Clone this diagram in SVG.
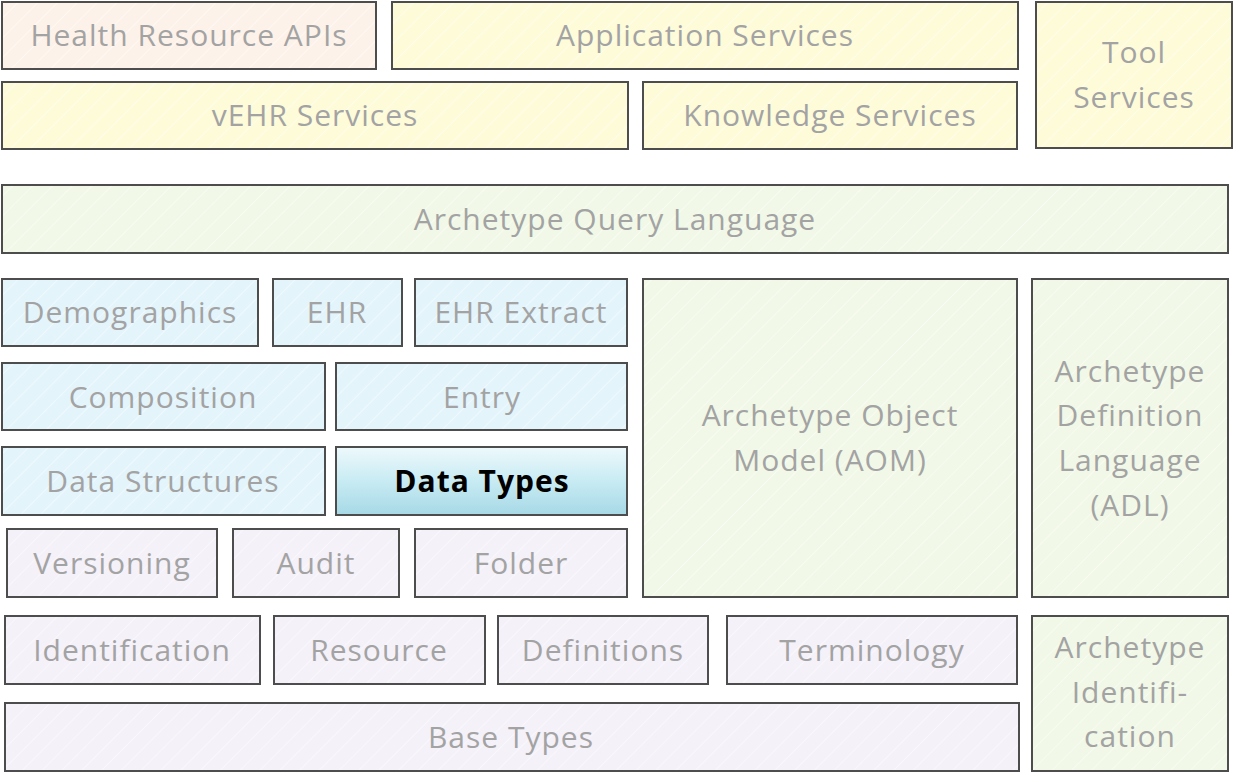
<svg xmlns="http://www.w3.org/2000/svg" width="1236" height="777" viewBox="0 0 1236 777">
<defs>
<pattern id="hatch" width="14" height="14" patternUnits="userSpaceOnUse" patternTransform="rotate(45)">
<line x1="0" y1="0" x2="0" y2="14" stroke="#ffffff" stroke-width="2" stroke-opacity="0.45"/>
</pattern>
<linearGradient id="dt" x1="0" y1="0" x2="0" y2="1">
<stop offset="0" stop-color="#eef9fc"/>
<stop offset="0.5" stop-color="#c8ebf3"/>
<stop offset="1" stop-color="#a6d9e6"/>
</linearGradient>
<style>
rect.b{stroke:#4d4d4d;stroke-width:2}
rect.h{fill:url(#hatch);stroke:none}
.peach{fill:#fdf2e9}
.yel{fill:#fefbd9}
.grn{fill:#f1f8e7}
.blu{fill:#e3f4fb}
.pur{fill:#f4f1f9}
text{font-family:"Open Sans","Noto Sans",sans-serif;font-size:30px;letter-spacing:1px;fill:#a3a3a3;text-anchor:middle}
text.dtt{fill:#000;font-weight:bold}
</style>
</defs>
<rect width="1236" height="777" fill="#ffffff"/>
<g id="health-resource-apis"><rect class="b peach" x="2" y="2" width="374" height="67"/><rect class="h" x="3" y="3" width="372" height="65"/><text x="189" y="46">Health Resource APIs</text></g>
<g id="application-services"><rect class="b yel" x="392" y="2" width="626" height="67"/><rect class="h" x="393" y="3" width="624" height="65"/><text x="705" y="46">Application Services</text></g>
<g id="tool-services"><rect class="b yel" x="1036" y="2" width="196" height="146"/><rect class="h" x="1037" y="3" width="194" height="144"/><text x="1134" y="63">Tool</text><text x="1134" y="108">Services</text></g>
<g id="vehr-services"><rect class="b yel" x="2" y="82" width="626" height="67"/><rect class="h" x="3" y="83" width="624" height="65"/><text x="315" y="126">vEHR Services</text></g>
<g id="knowledge-services"><rect class="b yel" x="643" y="82" width="374" height="67"/><rect class="h" x="644" y="83" width="372" height="65"/><text x="830" y="126">Knowledge Services</text></g>
<g id="aql"><rect class="b grn" x="2" y="185" width="1226" height="68"/><rect class="h" x="3" y="186" width="1224" height="66"/><text x="615" y="230">Archetype Query Language</text></g>
<g id="demographics"><rect class="b blu" x="2" y="279" width="256" height="67"/><rect class="h" x="3" y="280" width="254" height="65"/><text x="130" y="323">Demographics</text></g>
<g id="ehr"><rect class="b blu" x="273" y="279" width="129" height="67"/><rect class="h" x="274" y="280" width="127" height="65"/><text x="337" y="323">EHR</text></g>
<g id="ehr-extract"><rect class="b blu" x="415" y="279" width="212" height="67"/><rect class="h" x="416" y="280" width="210" height="65"/><text x="521" y="323">EHR Extract</text></g>
<g id="aom"><rect class="b grn" x="643" y="279" width="374" height="318"/><rect class="h" x="644" y="280" width="372" height="316"/><text x="830" y="426">Archetype Object</text><text x="830" y="471">Model (AOM)</text></g>
<g id="adl"><rect class="b grn" x="1032" y="279" width="196" height="318"/><rect class="h" x="1033" y="280" width="194" height="316"/><text x="1130" y="382">Archetype</text><text x="1130" y="426">Definition</text><text x="1130" y="471">Language</text><text x="1130" y="516">(ADL)</text></g>
<g id="composition"><rect class="b blu" x="2" y="363" width="323" height="67"/><rect class="h" x="3" y="364" width="321" height="65"/><text x="163" y="408">Composition</text></g>
<g id="entry"><rect class="b blu" x="336" y="363" width="291" height="67"/><rect class="h" x="337" y="364" width="289" height="65"/><text x="482" y="408">Entry</text></g>
<g id="data-structures"><rect class="b blu" x="2" y="447" width="323" height="68"/><rect class="h" x="3" y="448" width="321" height="66"/><text x="163" y="492">Data Structures</text></g>
<g id="data-types"><rect class="b" fill="url(#dt)" x="336" y="447" width="291" height="68"/><text class="dtt" x="482" y="492">Data Types</text></g>
<g id="versioning"><rect class="b pur" x="7" y="529" width="210" height="68"/><rect class="h" x="8" y="530" width="208" height="66"/><text x="112" y="574">Versioning</text></g>
<g id="audit"><rect class="b pur" x="233" y="529" width="166" height="68"/><rect class="h" x="234" y="530" width="164" height="66"/><text x="316" y="574">Audit</text></g>
<g id="folder"><rect class="b pur" x="415" y="529" width="212" height="68"/><rect class="h" x="416" y="530" width="210" height="66"/><text x="521" y="574">Folder</text></g>
<g id="identification"><rect class="b pur" x="5" y="616" width="255" height="68"/><rect class="h" x="6" y="617" width="253" height="66"/><text x="132" y="661">Identification</text></g>
<g id="resource"><rect class="b pur" x="274" y="616" width="211" height="68"/><rect class="h" x="275" y="617" width="209" height="66"/><text x="379" y="661">Resource</text></g>
<g id="definitions"><rect class="b pur" x="498" y="616" width="210" height="68"/><rect class="h" x="499" y="617" width="208" height="66"/><text x="603" y="661">Definitions</text></g>
<g id="terminology"><rect class="b pur" x="727" y="616" width="290" height="68"/><rect class="h" x="728" y="617" width="288" height="66"/><text x="872" y="661">Terminology</text></g>
<g id="archetype-identification"><rect class="b grn" x="1032" y="616" width="196" height="155"/><rect class="h" x="1033" y="617" width="194" height="153"/><text x="1130" y="658">Archetype</text><text x="1130" y="703">Identifi-</text><text x="1130" y="747">cation</text></g>
<g id="base-types"><rect class="b pur" x="5" y="703" width="1014" height="68"/><rect class="h" x="6" y="704" width="1012" height="66"/><text x="511" y="748">Base Types</text></g>
<g id="connectors"></g>
</svg>
